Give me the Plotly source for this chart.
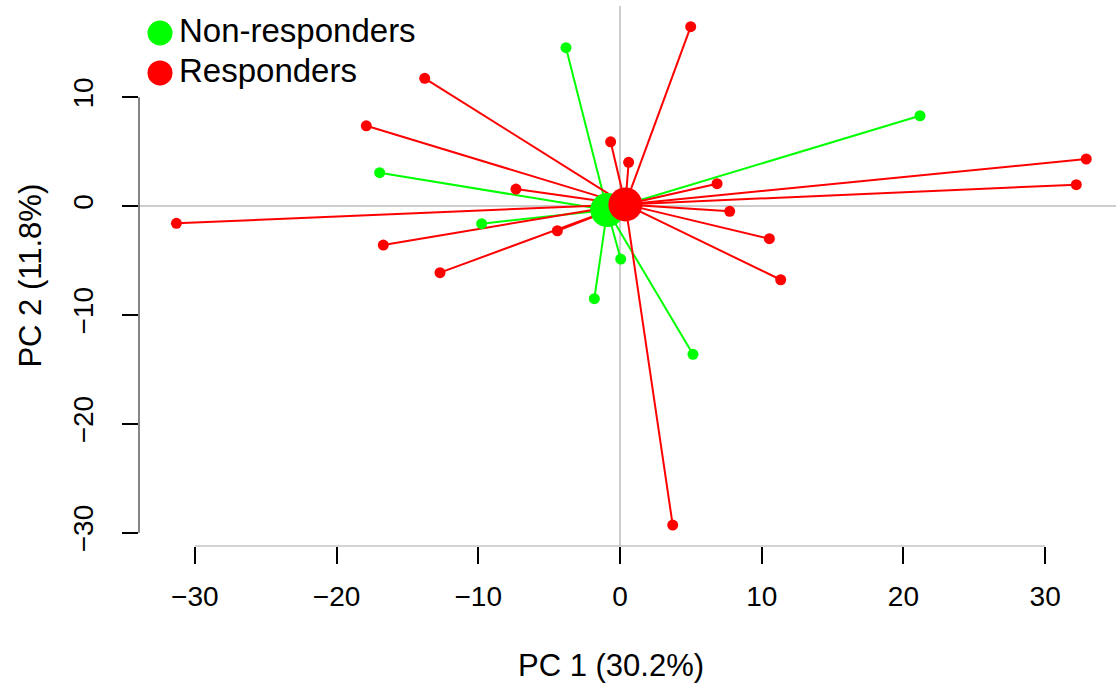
import plotly.graph_objects as go

# ---- data ----
groups = ["Non-responders", "Responders"]
colors = ["#00FF00", "#FF0000"]

nonresp_pc1 = [-3.81, -16.96, -9.76, 0.05, 21.17, -1.81, 5.15]
nonresp_pc2 = [14.54, 3.06, -1.62, -4.87, 8.29, -8.51, -13.62]

resp_pc1 = [-13.78, -17.9, -7.34, -31.3, -16.7, -4.42, -12.7, -0.66, 4.99,
            0.61, 6.85, 32.9, 32.2, 7.74, 10.54, 11.34, 3.72]
resp_pc2 = [11.73, 7.37, 1.56, -1.59, -3.58, -2.27, -6.12, 5.9, 16.47,
            4.01, 2.05, 4.32, 1.96, -0.49, -3.0, -6.77, -29.3]

centroid_pc1 = [-0.9, 0.38]
centroid_pc2 = [-0.37, 0.15]

x_ticks = [-30, -20, -10, 0, 10, 20, 30]
y_ticks = [-30, -20, -10, 0, 10]
x_title = "PC 1 (30.2%)"
y_title = "PC 2 (11.8%)"

FONT = "Liberation Sans, Arial, Helvetica, sans-serif"

pts = [(nonresp_pc1, nonresp_pc2), (resp_pc1, resp_pc2)]

fig = go.Figure()

# star segments
for g, (xs, ys) in enumerate(pts):
    lx, ly = [], []
    for x, y in zip(xs, ys):
        lx += [centroid_pc1[g], x, None]
        ly += [centroid_pc2[g], y, None]
    fig.add_trace(go.Scatter(x=lx, y=ly, mode="lines",
                             line=dict(color=colors[g], width=2),
                             hoverinfo="skip", showlegend=False))
# points
for g, (xs, ys) in enumerate(pts):
    fig.add_trace(go.Scatter(x=xs, y=ys, mode="markers", name=groups[g],
                             marker=dict(color=colors[g], size=11, line=dict(width=0)),
                             showlegend=False))
# centroids
for g in range(2):
    fig.add_trace(go.Scatter(x=[centroid_pc1[g]], y=[centroid_pc2[g]], mode="markers",
                             marker=dict(color=colors[g], size=34, line=dict(width=0)),
                             showlegend=False, name=groups[g] + " centroid"))

shapes = [
    # reference lines at 0
    dict(type="line", xref="x", yref="paper", x0=0, x1=0, y0=0, y1=1,
         line=dict(color="#bdbdbd", width=1.5), layer="below"),
    dict(type="line", xref="paper", yref="y", x0=0, x1=1, y0=0, y1=0,
         line=dict(color="#bdbdbd", width=1.5), layer="below"),
    # R-style axis lines (only between first and last tick)
    dict(type="line", xref="x", yref="paper", x0=min(x_ticks), x1=max(x_ticks), y0=0, y1=0,
         line=dict(color="#a8a8a8", width=1.2)),
    dict(type="line", xref="paper", yref="y", x0=0, x1=0, y0=min(y_ticks), y1=max(y_ticks),
         line=dict(color="#333333", width=1.2)),
]

# legend (custom, R style)
leg_x = 0.0215
leg_y = [0.950, 0.876]
annotations = []
for g in range(2):
    shapes.append(dict(type="circle", xref="paper", yref="paper",
                       xsizemode="pixel", ysizemode="pixel",
                       xanchor=leg_x, yanchor=leg_y[g],
                       x0=-12.5, x1=12.5, y0=-12.5, y1=12.5,
                       fillcolor=colors[g], line=dict(width=0)))
    annotations.append(dict(xref="paper", yref="paper", x=0.039, y=leg_y[g] + 0.004,
                            xanchor="left", yanchor="middle", showarrow=False,
                            text=groups[g], font=dict(size=33, color="black", family=FONT)))

# axis titles (placed like R's mtext)
annotations.append(dict(xref="paper", yref="paper", x=0.483, y=-0.221,
                        xanchor="center", yanchor="middle", showarrow=False,
                        text=x_title, font=dict(size=31, color="black", family=FONT)))
annotations.append(dict(xref="paper", yref="paper", x=-0.112, y=0.50,
                        xanchor="center", yanchor="middle", showarrow=False, textangle=-90,
                        text=y_title, font=dict(size=31, color="black", family=FONT)))

fig.update_layout(
    width=1116, height=683,
    margin=dict(l=139, r=0, t=6, b=137),
    paper_bgcolor="white", plot_bgcolor="white",
    font=dict(family=FONT, color="black"),
    shapes=shapes, annotations=annotations,
    xaxis=dict(range=[-33.94, 35.0], tickvals=x_ticks, ticks="outside", ticklen=17,
               tickwidth=1.5, tickcolor="black", showgrid=False, zeroline=False,
               showline=False, tickfont=dict(size=28), ticklabelstandoff=8),
    yaxis=dict(range=[-31.22, 18.37], tickvals=y_ticks, ticks="outside", ticklen=16,
               tickwidth=1.5, tickcolor="black", showgrid=False, zeroline=False,
               showline=False, tickfont=dict(size=28), tickangle=-90, ticklabelstandoff=18),
)

fig.write_html("out.html")
